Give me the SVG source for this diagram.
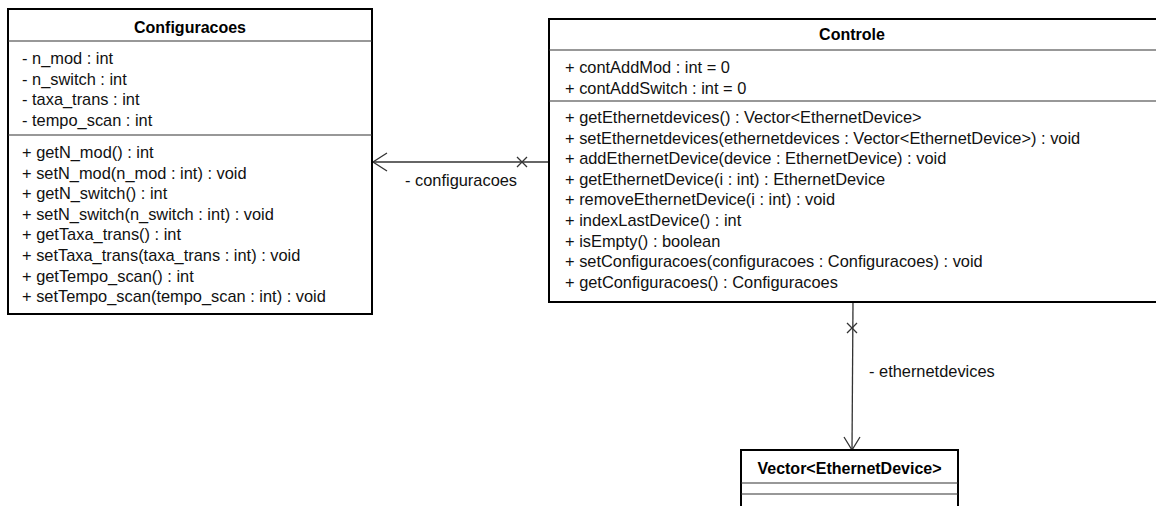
<svg xmlns="http://www.w3.org/2000/svg" width="1156" height="506" viewBox="0 0 1156 506">
<style>
.box{fill:#fff;stroke:#000;stroke-width:2}
.sep{stroke:#333;stroke-width:1.2;fill:none}
.t{font-family:"Liberation Sans",Arial,sans-serif;font-size:16.4px;fill:#111}
.title{font-family:"Liberation Sans",Arial,sans-serif;font-size:16px;font-weight:bold;fill:#000;text-anchor:middle}
.conn{stroke:#333;stroke-width:1.3;fill:none}
</style>
<rect width="1156" height="506" fill="#fff"/>
<g id="connectors">
<line class="conn" x1="373" y1="162" x2="548" y2="162"/>
<polyline class="conn" points="387,153 373,162 387,171"/>
<path class="conn" d="M517,157 L527,167 M527,157 L517,167"/>
<text class="t" x="405" y="186">- configuracoes</text>
<line class="conn" x1="853" y1="302" x2="852" y2="450"/>
<polyline class="conn" points="844,437 852,450 860,437"/>
<path class="conn" d="M847,323 L857,333 M857,323 L847,333"/>
<text class="t" x="869" y="377">- ethernetdevices</text>
</g>
<g id="Configuracoes">
<rect class="box" x="8" y="9" width="364" height="305"/>
<text class="title" x="190" y="33">Configuracoes</text>
<line class="sep" x1="8" y1="41" x2="372" y2="41"/>
<text class="t" x="22" y="64">- n_mod : int</text>
<text class="t" x="22" y="84.6">- n_switch : int</text>
<text class="t" x="22" y="105.2">- taxa_trans : int</text>
<text class="t" x="22" y="125.8">- tempo_scan : int</text>
<line class="sep" x1="8" y1="135" x2="372" y2="135"/>
<text class="t" x="22" y="158">+ getN_mod() : int</text>
<text class="t" x="22" y="178.6">+ setN_mod(n_mod : int) : void</text>
<text class="t" x="22" y="199.2">+ getN_switch() : int</text>
<text class="t" x="22" y="219.8">+ setN_switch(n_switch : int) : void</text>
<text class="t" x="22" y="240.4">+ getTaxa_trans() : int</text>
<text class="t" x="22" y="261">+ setTaxa_trans(taxa_trans : int) : void</text>
<text class="t" x="22" y="281.6">+ getTempo_scan() : int</text>
<text class="t" x="22" y="302.2">+ setTempo_scan(tempo_scan : int) : void</text>
</g>
<g id="Controle">
<rect class="box" x="549" y="19" width="610" height="283"/>
<text class="title" x="852" y="40">Controle</text>
<line class="sep" x1="549" y1="50" x2="1156" y2="50"/>
<text class="t" x="565" y="73">+ contAddMod : int = 0</text>
<text class="t" x="565" y="93.6">+ contAddSwitch : int = 0</text>
<line class="sep" x1="549" y1="101" x2="1156" y2="101"/>
<text class="t" x="565" y="123">+ getEthernetdevices() : Vector&lt;EthernetDevice&gt;</text>
<text class="t" x="565" y="143.6">+ setEthernetdevices(ethernetdevices : Vector&lt;EthernetDevice&gt;) : void</text>
<text class="t" x="565" y="164.2">+ addEthernetDevice(device : EthernetDevice) : void</text>
<text class="t" x="565" y="184.8">+ getEthernetDevice(i : int) : EthernetDevice</text>
<text class="t" x="565" y="205.4">+ removeEthernetDevice(i : int) : void</text>
<text class="t" x="565" y="226">+ indexLastDevice() : int</text>
<text class="t" x="565" y="246.6">+ isEmpty() : boolean</text>
<text class="t" x="565" y="267.2">+ setConfiguracoes(configuracoes : Configuracoes) : void</text>
<text class="t" x="565" y="287.8">+ getConfiguracoes() : Configuracoes</text>
</g>
<g id="VectorEthernetDevice">
<rect class="box" x="741" y="450" width="217" height="70"/>
<text class="title" x="849.5" y="474">Vector&lt;EthernetDevice&gt;</text>
<line class="sep" x1="741" y1="483" x2="958" y2="483"/>
<line class="sep" x1="741" y1="494" x2="958" y2="494"/>
</g>
</svg>
